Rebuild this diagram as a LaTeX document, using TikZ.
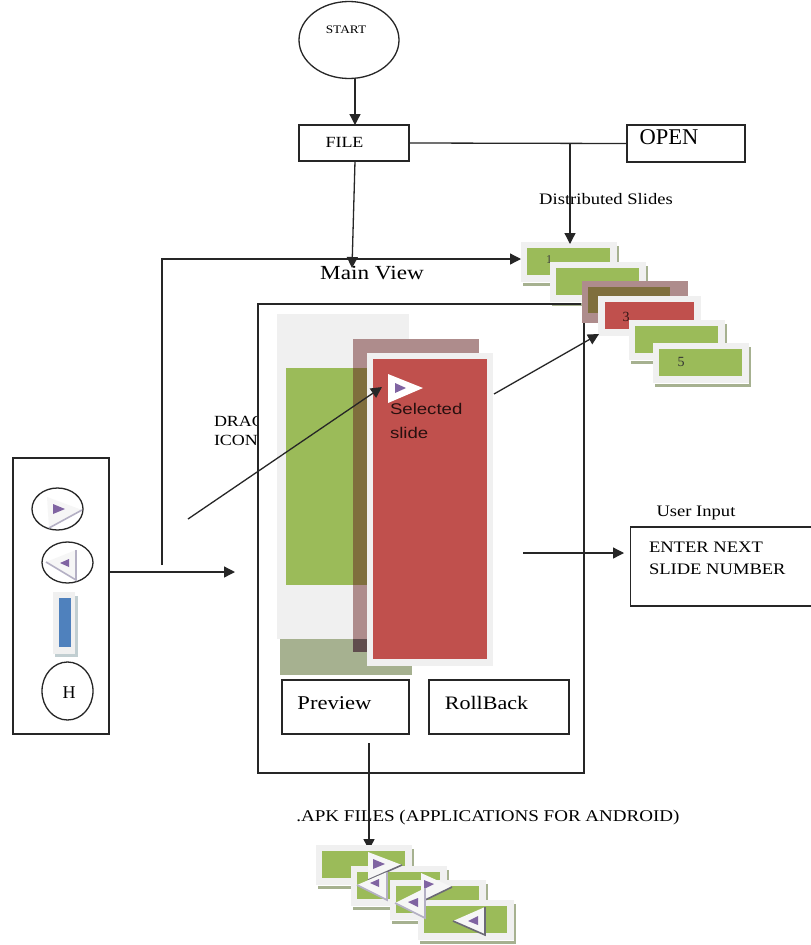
\documentclass[tikz,border=0pt]{standalone}
\usepackage{fontspec}
\setmainfont{Liberation Serif}
\newfontfamily\wide[FakeStretch=1.16]{Liberation Serif}
\newfontfamily\sansf[FakeStretch=1.2]{Liberation Sans}
\usetikzlibrary{arrows.meta,shapes.geometric}
\definecolor{sgreen}{HTML}{9BBB59}
\definecolor{sred}{HTML}{C0504D}
\definecolor{sblue}{HTML}{4F81BD}
\definecolor{spurple}{HTML}{8064A2}
\definecolor{sframe}{HTML}{F0F0F0}
\definecolor{sshadow}{HTML}{A6B190}
\definecolor{srose}{HTML}{AE8C8C}
\definecolor{sbrown}{HTML}{7F6F3D}
\definecolor{sshade}{HTML}{B4B0C4}
\tikzset{
  linebox/.style={draw=black!85,line width=1.3pt,fill=white,inner sep=0pt,outer sep=0pt},
  round/.style={draw=black!85,line width=1.3pt,fill=white,ellipse,inner sep=0pt,outer sep=0pt},
  arr/.style={draw=black!85,line width=1.3pt,-{Triangle[length=11pt,width=11pt]}},
  plain/.style={draw=black!85,line width=1.3pt},
  lab/.style={inner sep=0pt,outer sep=0pt,align=left,text=black},
}
% small slide: x0 y0 of the frame
\newcommand{\smallslide}[2]{%
  \begin{scope}[shift={(#1,#2)}]
    \fill[sshadow] (2,41) rectangle (98,44);
    \fill[sshadow] (96,4) rectangle (98,44);
    \fill[sframe] (0,0) rectangle (95.5,39.5);
    \fill[sgreen] (6,6) rectangle (89,32.5);
  \end{scope}}
% right-pointing marker
\newcommand{\triright}[7]{%
  \fill[sframe!60!white] (#1) -- (#2) -- (#3) -- cycle;
  \draw[#7,line width=1.6pt] (#3) -- (#2);
  \fill[spurple] (#4) -- (#5) -- (#6) -- cycle;}
% left-pointing marker
\newcommand{\trileft}[7]{%
  \fill[sframe!60!white] (#1) -- (#2) -- (#3) -- cycle;
  \draw[#7,line width=1.6pt] (#1) -- (#3) -- (#2);
  \fill[spurple] (#4) -- (#5) -- (#6) -- cycle;}
\begin{document}
\begin{tikzpicture}[x=1pt,y=-1pt]
\useasboundingbox (0,0) rectangle (811,945);
\fill[white] (0,0) rectangle (811,945);

% text that the main view frame cuts off
\node[lab,anchor=west,font=\wide\fontsize{15.5}{19}\selectfont] (drag) at (214,431) {DRAG\\ICON};

% main view frame
\node[linebox,minimum width=326pt,minimum height=469pt] (main) at (421,538.5) {};

% large slides inside the main view
\fill[sshadow] (280,639) rectangle (412,675);
\fill[sframe] (277,314) rectangle (409,639);
\fill[sgreen] (286,368) rectangle (400,585);
\fill[srose] (353,339) rectangle (479,652);
\fill[sbrown] (353,368) rectangle (400,585);
\fill[black!45!srose] (353,639) rectangle (367,652);
\fill[sframe] (367,353) rectangle (493,666);
\fill[sred] (373,359) rectangle (487,659);
\node[lab,anchor=north west,font=\sansf\fontsize{15.5}{24.5}\selectfont,text=black!80!sred] (sel) at (390,403) {Selected\\slide};
\fill[white] (388,374) -- (423,388) -- (388,403) -- cycle;
\fill[spurple] (395,383) -- (406,388) -- (395,393) -- cycle;

% distributed slides
\smallslide{521}{242}
\node[lab,font=\fontsize{12}{12}\selectfont,text=black!75] (n1) at (549,260) {1};
\smallslide{550}{262}
\fill[srose] (582,281) rectangle (688,323);
\fill[sbrown] (588,287) rectangle (670,313);
\fill[sframe] (598,296) rectangle (701,336);
\fill[sred] (605,302) rectangle (694,329);
\smallslide{629}{320}
\smallslide{653}{343}
\node[lab,font=\fontsize{14}{14}\selectfont,text=black!75!sred] (n3) at (626,317) {3};
\node[lab,font=\fontsize{14}{14}\selectfont,text=black!80] (n5) at (681,362) {5};

% repair the frame line crossed by the slides
\draw[plain] (258,304) -- (581,304);
\draw[plain] (584,323) -- (584,773);

% top flow
\node[round,minimum width=100pt,minimum height=77pt] (start) at (349,40) {};
\node[lab,font=\wide\fontsize{11.5}{12}\selectfont] (startt) at (346,30) {START};
\node[linebox,minimum width=110pt,minimum height=36pt] (file) at (354,143) {};
\node[lab,font=\wide\fontsize{15.5}{15}\selectfont] (filet) at (344.5,142) {FILE};
\node[linebox,minimum width=118pt,minimum height=37pt] (open) at (686,143.5) {};
\node[lab,font=\fontsize{22.5}{20}\selectfont] (opent) at (669,137) {OPEN};
\node[lab,font=\wide\fontsize{16}{15}\selectfont] (dist) at (606,199) {Distributed Slides};
\node[lab,font=\wide\fontsize{20}{19}\selectfont] (mv) at (372,273) {Main View};
\coordinate (filebot) at (355,161);
\coordinate (mvtop) at (352,268);
\coordinate (startbot) at (355,78);
\coordinate (filetop) at (355,125);
\coordinate (junction) at (570,143.5);
\coordinate (slidetop) at (570,244);
\draw[arr] (startbot) -- (filetop);
\draw[plain] (file.east) -- (open.west);
\draw[arr] (junction) -- (slidetop);
\draw[arr] (filebot) -- (mvtop);

% palette
\node[linebox,minimum width=96pt,minimum height=276pt] (palette) at (61,596) {};
\node[round,minimum width=51pt,minimum height=42pt] (e1) at (57.5,509) {};
\triright{47,497}{82,510}{49,528}{53,504}{65,509}{53,514}{sshade}
\node[round,minimum width=51pt,minimum height=41pt] (e2) at (67.5,562.5) {};
\trileft{46,562}{76,550}{76,580}{60,563}{69,559}{69,567}{sshade}
\fill[sshadow!60!sblue!50!white] (55,596) rectangle (78,657);
\fill[sframe] (53,592) rectangle (75,654);
\fill[sblue] (59,598) rectangle (71,647);
\node[round,minimum width=51pt,minimum height=58pt] (e3) at (67.5,691) {};
\node[lab,font=\fontsize{18}{18}\selectfont] (h) at (69,693) {H};

% main connectors
\coordinate (mainin) at (235,572);
\coordinate (up) at (162,565);
\coordinate (corner) at (162,259);
\coordinate (s1in) at (521,259);
\coordinate (d1) at (188,519);
\coordinate (d2) at (382,387);
\coordinate (d3) at (494,394);
\coordinate (d4) at (599,334);
\coordinate (d5) at (523,553);
\coordinate (d6) at (624,553);
\draw[arr] (palette.east |- mainin) -- (mainin);
\draw[arr] (up) -- (corner) -- (s1in);
\draw[arr] (d1) -- (d2);
\draw[arr] (d3) -- (d4);
\draw[arr] (d5) -- (d6);

% user input
\node[linebox,minimum width=181pt,minimum height=79pt] (enter) at (721,566.5) {};
\node[lab,anchor=west,font=\wide\fontsize{16}{22}\selectfont] (entert) at (649,558) {ENTER NEXT\\SLIDE NUMBER};
\node[lab,font=\wide\fontsize{16}{15}\selectfont] (ui) at (696,513) {User Input};

% bottom buttons
\node[linebox,minimum width=127pt,minimum height=54pt] (prev) at (345.5,707) {};
\node[lab,font=\wide\fontsize{19.5}{19}\selectfont] (prevt) at (334.5,703) {Preview};
\node[linebox,minimum width=140pt,minimum height=54pt] (roll) at (499,707) {};
\node[lab,font=\wide\fontsize{19}{19}\selectfont] (rollb) at (486.5,703) {RollBack};

% apk files
\node[lab,font=\wide\fontsize{16.4}{16}\selectfont] (apk) at (488,818) {.APK FILES (APPLICATIONS FOR ANDROID)};
\coordinate (p1) at (369,743);
\coordinate (p2) at (369,850);
\draw[arr] (p1) -- (p2);
\smallslide{316}{845}
\smallslide{351}{866}
\smallslide{390}{880}
\smallslide{418}{900}
\triright{368,852}{402,865}{368,880}{373,859}{385,864}{373,869}{sshade!60!black}
\trileft{357,885}{387,872}{387,900}{370,883}{379,879}{379,887}{sshade}
\triright{421,873}{452,887}{421,902}{424,880}{434,884}{424,889}{sshade!60!black}
\trileft{395,903}{425,888}{425,918}{408,902}{418,898}{418,907}{sshade}
\trileft{453,921}{485,907}{485,935}{468,921}{478,916}{478,925}{sshade!60!black}
\end{tikzpicture}
\end{document}
